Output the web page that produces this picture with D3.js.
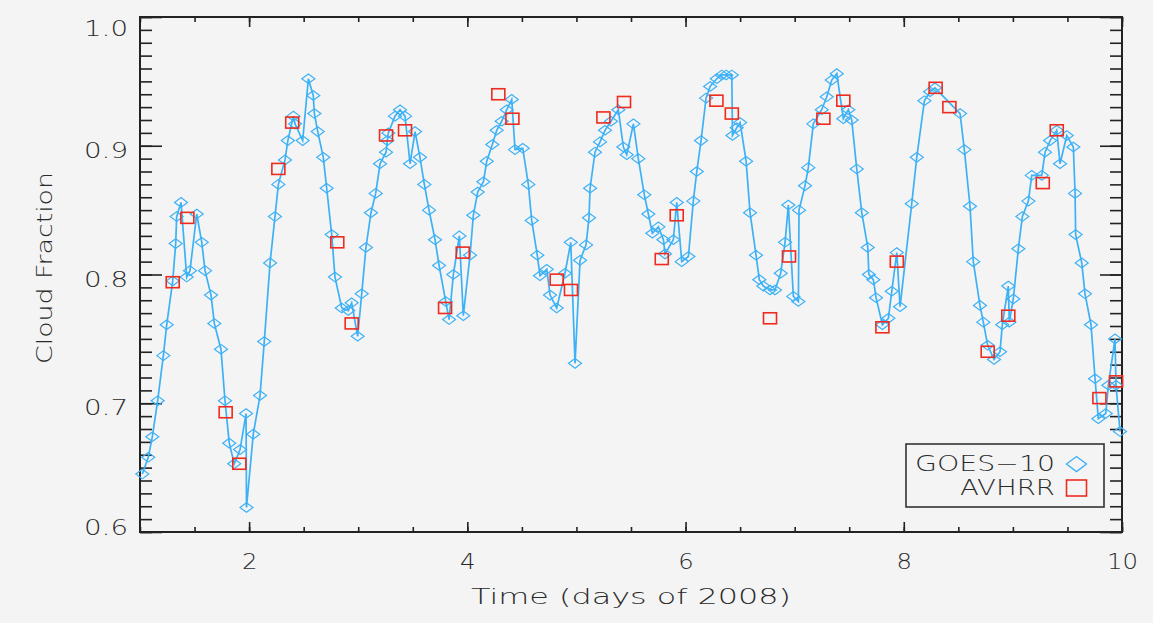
<!DOCTYPE html>
<html lang="en">
<head>
<meta charset="UTF-8">
<title>Cloud Fraction GOES-10 vs AVHRR</title>
<script src="https://d3js.org/d3.v7.min.js"></script>
<style>
    html, body { margin: 0; padding: 0; background: #f4f4f4; }
    svg text { font-family: "DejaVu Sans", sans-serif; font-weight: 200; fill: #2a2a2a; }
</style>
</head>
<body>
<div id="chart"></div>
<script>
    // GOES-10 cloud fraction, [day of 2008, fraction]
    const goes = [
        [1.021,0.645],[1.076,0.658],[1.113,0.674],[1.162,0.702],[1.214,0.737],[1.245,0.761],[1.300,0.795],[1.327,0.824],
        [1.336,0.845],[1.376,0.856],[1.428,0.798],[1.458,0.803],[1.520,0.847],[1.566,0.825],[1.596,0.803],[1.651,0.784],
        [1.681,0.762],[1.742,0.742],[1.779,0.702],[1.818,0.669],[1.864,0.653],[1.917,0.664],[1.972,0.692],[1.976,0.619],
        [2.038,0.676],[2.100,0.706],[2.139,0.748],[2.192,0.809],[2.237,0.845],[2.268,0.870],[2.329,0.889],[2.355,0.904],
        [2.406,0.923],[2.421,0.917],[2.491,0.904],[2.543,0.952],[2.588,0.939],[2.598,0.925],[2.629,0.911],[2.680,0.891],
        [2.711,0.867],[2.757,0.831],[2.787,0.798],[2.849,0.774],[2.909,0.772],[2.940,0.778],[2.995,0.752],[3.032,0.785],
        [3.071,0.821],[3.117,0.848],[3.160,0.863],[3.200,0.886],[3.255,0.895],[3.267,0.904],[3.276,0.910],[3.337,0.923],
        [3.383,0.928],[3.429,0.923],[3.475,0.886],[3.521,0.911],[3.566,0.891],[3.606,0.870],[3.649,0.850],[3.704,0.827],
        [3.741,0.807],[3.802,0.779],[3.833,0.765],[3.872,0.800],[3.927,0.830],[3.963,0.768],[4.025,0.815],[4.055,0.846],
        [4.095,0.864],[4.147,0.872],[4.178,0.888],[4.229,0.901],[4.269,0.912],[4.315,0.919],[4.361,0.928],[4.407,0.936],
        [4.437,0.897],[4.508,0.898],[4.559,0.870],[4.590,0.842],[4.641,0.815],[4.666,0.799],[4.728,0.804],[4.758,0.784],
        [4.819,0.774],[4.895,0.801],[4.948,0.825],[4.987,0.731],[5.033,0.811],[5.088,0.823],[5.115,0.844],[5.125,0.867],
        [5.170,0.895],[5.216,0.903],[5.262,0.912],[5.317,0.919],[5.384,0.928],[5.430,0.899],[5.461,0.893],[5.522,0.917],
        [5.567,0.890],[5.622,0.862],[5.659,0.847],[5.696,0.832],[5.751,0.837],[5.797,0.827],[5.812,0.816],[5.888,0.827],
        [5.919,0.856],[5.965,0.810],[6.026,0.814],[6.071,0.857],[6.103,0.880],[6.142,0.904],[6.188,0.937],[6.225,0.946],
        [6.286,0.952],[6.332,0.955],[6.372,0.955],[6.424,0.955],[6.430,0.908],[6.469,0.914],[6.500,0.918],[6.555,0.888],
        [6.591,0.848],[6.646,0.815],[6.676,0.796],[6.713,0.791],[6.774,0.788],[6.820,0.788],[6.872,0.801],[6.912,0.825],
        [6.942,0.854],[6.988,0.783],[7.034,0.779],[7.040,0.850],[7.095,0.869],[7.125,0.883],[7.171,0.917],[7.248,0.928],
        [7.294,0.938],[7.340,0.951],[7.386,0.956],[7.446,0.921],[7.492,0.928],[7.523,0.920],[7.569,0.882],[7.615,0.848],
        [7.670,0.821],[7.680,0.800],[7.721,0.796],[7.746,0.782],[7.804,0.761],[7.859,0.766],[7.890,0.787],[7.936,0.817],
        [7.966,0.775],[8.073,0.855],[8.119,0.891],[8.189,0.935],[8.241,0.942],[8.286,0.945],[8.516,0.925],[8.555,0.897],
        [8.607,0.853],[8.637,0.810],[8.698,0.776],[8.729,0.763],[8.769,0.745],[8.827,0.734],[8.882,0.740],[8.903,0.761],
        [8.958,0.791],[8.967,0.763],[9.004,0.781],[9.050,0.820],[9.087,0.845],[9.142,0.857],[9.173,0.877],[9.265,0.877],
        [9.295,0.895],[9.341,0.904],[9.402,0.912],[9.432,0.886],[9.494,0.908],[9.554,0.899],[9.570,0.863],[9.575,0.831],
        [9.631,0.809],[9.661,0.785],[9.716,0.761],[9.753,0.719],[9.783,0.688],[9.851,0.692],[9.875,0.714],[9.936,0.750],
        [9.945,0.714],[9.982,0.678]
    ];

    // AVHRR cloud fraction, [day of 2008, fraction]
    const avhrr = [
        [1.300,0.794],[1.434,0.844],[1.785,0.693],[1.910,0.653],[2.268,0.882],[2.395,0.918],[2.808,0.825],[2.940,0.762],
        [3.255,0.908],[3.429,0.912],[3.796,0.774],[3.958,0.817],[4.284,0.940],[4.413,0.921],[4.819,0.796],[4.950,0.788],
        [5.247,0.922],[5.436,0.934],[5.782,0.812],[5.919,0.846],[6.283,0.935],[6.424,0.925],[6.774,0.766],[6.948,0.814],
        [7.263,0.921],[7.446,0.935],[7.804,0.759],[7.936,0.810],[8.292,0.945],[8.418,0.930],[8.769,0.740],[8.958,0.768],
        [9.274,0.871],[9.402,0.912],[9.793,0.704],[9.946,0.717]
    ];

    const xMajor = [2, 4, 6, 8, 10];
    const yMajor = [0.6, 0.7, 0.8, 0.9, 1.0];
    const legendNames = ["GOES\u221210", "AVHRR"];

    const width = 1153;
    const height = 623;
    const plot = { left: 140, right: 1122, top: 17, bottom: 532 };
    const blue = "#3db1f6";
    const red = "#ee2b1e";
    const ink = "#222";

    const svg = d3.select("#chart").append("svg")
        .attr("width", width)
        .attr("height", height);

    svg.append("rect")
        .attr("width", width).attr("height", height)
        .attr("fill", "#f4f4f4");

    const x = d3.scaleLinear().domain([1, 10]).range([plot.left, plot.right]);
    const y = d3.scaleLinear().domain([0.6, 1.0]).range([plot.bottom, plot.top]);

    const xMinor = d3.range(1, 10.001, 0.5);
    const yMinor = d3.range(0.6, 1.0001, 0.01);

    function styleAxis(g) {
        g.select(".domain").remove();
        g.selectAll("line").attr("stroke", ink).attr("stroke-width", 1.6);
    }

    // minor ticks, all four sides
    svg.append("g").attr("transform", `translate(${plot.left},0)`)
        .call(d3.axisLeft(y).tickValues(yMinor).tickSize(-12).tickFormat(""))
        .call(styleAxis);
    svg.append("g").attr("transform", `translate(${plot.right},0)`)
        .call(d3.axisRight(y).tickValues(yMinor).tickSize(-12).tickFormat(""))
        .call(styleAxis);
    svg.append("g").attr("transform", `translate(0,${plot.bottom})`)
        .call(d3.axisBottom(x).tickValues(xMinor).tickSize(-5).tickFormat(""))
        .call(styleAxis);
    svg.append("g").attr("transform", `translate(0,${plot.top})`)
        .call(d3.axisTop(x).tickValues(xMinor).tickSize(-5).tickFormat(""))
        .call(styleAxis);

    // major ticks + labels
    const yAxis = svg.append("g").attr("transform", `translate(${plot.left},0)`)
        .call(d3.axisLeft(y).tickValues(yMajor).tickSize(-22).tickPadding(12).tickFormat(d3.format(".1f")))
        .call(styleAxis);
    yAxis.selectAll("text")
        .attr("font-size", 21)
        .attr("dy", "0.36em")
        .attr("textLength", 44)
        .attr("lengthAdjust", "spacingAndGlyphs")
        .attr("y", d => Math.max(28, Math.min(527, y(d) + 4)) - y(d));

    svg.append("g").attr("transform", `translate(${plot.right},0)`)
        .call(d3.axisRight(y).tickValues(yMajor).tickSize(-22).tickFormat(""))
        .call(styleAxis);

    const xAxis = svg.append("g").attr("transform", `translate(0,${plot.bottom})`)
        .call(d3.axisBottom(x).tickValues(xMajor).tickSize(-10).tickPadding(22))
        .call(styleAxis);
    xAxis.selectAll("text")
        .attr("font-size", 21)
        .attr("textLength", d => String(d).length * 15.5)
        .attr("lengthAdjust", "spacingAndGlyphs");

    svg.append("g").attr("transform", `translate(0,${plot.top})`)
        .call(d3.axisTop(x).tickValues(xMajor).tickSize(-10).tickFormat(""))
        .call(styleAxis);

    // frame
    svg.append("rect")
        .attr("x", plot.left).attr("y", plot.top)
        .attr("width", plot.right - plot.left)
        .attr("height", plot.bottom - plot.top)
        .attr("fill", "none")
        .attr("stroke", ink)
        .attr("stroke-width", 2);

    // axis titles
    svg.append("text")
        .attr("x", 631).attr("y", 604)
        .attr("text-anchor", "middle")
        .attr("font-size", 22)
        .attr("textLength", 320)
        .attr("lengthAdjust", "spacingAndGlyphs")
        .text("Time (days of 2008)");

    svg.append("text")
        .attr("transform", "translate(52,268) rotate(-90)")
        .attr("text-anchor", "middle")
        .attr("font-size", 22)
        .attr("textLength", 192)
        .attr("lengthAdjust", "spacingAndGlyphs")
        .text("Cloud Fraction");

    // GOES line + diamonds
    const line = d3.line().x(d => x(d[0])).y(d => y(d[1]));
    svg.append("path")
        .datum(goes)
        .attr("d", line)
        .attr("fill", "none")
        .attr("stroke", blue)
        .attr("stroke-width", 1.7);

    const diamond = "M-6.5,0L0,-4.8L6.5,0L0,4.8Z";
    svg.append("g").selectAll("path")
        .data(goes)
        .join("path")
        .attr("d", diamond)
        .attr("transform", d => `translate(${x(d[0])},${y(d[1])})`)
        .attr("fill", "none")
        .attr("stroke", blue)
        .attr("stroke-width", 1.2);

    // AVHRR squares
    svg.append("g").selectAll("rect")
        .data(avhrr)
        .join("rect")
        .attr("x", d => x(d[0]) - 6.5)
        .attr("y", d => y(d[1]) - 5.5)
        .attr("width", 13)
        .attr("height", 11)
        .attr("fill", "none")
        .attr("stroke", red)
        .attr("stroke-width", 1.6);

    // legend
    const legend = svg.append("g");
    legend.append("rect")
        .attr("x", 906).attr("y", 444)
        .attr("width", 198).attr("height", 63)
        .attr("fill", "#f4f4f4")
        .attr("stroke", "#333")
        .attr("stroke-width", 1.6);

    legend.selectAll("text")
        .data(legendNames)
        .join("text")
        .attr("x", 1055)
        .attr("y", (d, i) => 471 + i * 24)
        .attr("text-anchor", "end")
        .attr("font-size", 21)
        .attr("textLength", (d, i) => i === 0 ? 140 : 95)
        .attr("lengthAdjust", "spacingAndGlyphs")
        .text(d => d);

    legend.append("path")
        .attr("d", "M-10,0L0,-7.5L10,0L0,7.5Z")
        .attr("transform", "translate(1076.5,464)")
        .attr("fill", "none")
        .attr("stroke", blue)
        .attr("stroke-width", 1.4);

    legend.append("rect")
        .attr("x", 1066.5).attr("y", 480)
        .attr("width", 20).attr("height", 16)
        .attr("fill", "none")
        .attr("stroke", red)
        .attr("stroke-width", 1.6);
</script>
</body>
</html>
